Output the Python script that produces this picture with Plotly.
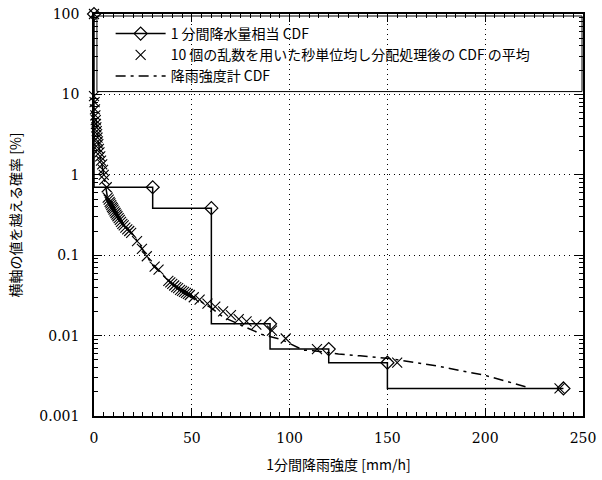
import plotly.graph_objects as go

# 1分間降水量相当 CDF (step)
step_x = [0, 30, 60, 90, 120, 150, 240]
step_y = [100, 0.70, 0.385, 0.014, 0.0068, 0.0046, 0.0022]

# 10個の乱数を用いた秒単位均し分配処理後の CDF の平均
avg_x = [0, 0.0, 0.3, 0.5, 0.7, 0.9, 1.0, 1.2, 1.4, 1.6, 1.8, 2.0, 2.2, 2.5, 2.8, 3.2, 3.6, 4.2, 4.6, 5.0, 5.3, 6.5,
         7.0, 7.5, 8.0, 8.4, 8.8, 9.2, 9.6, 10.0, 10.5, 11.0, 11.5, 12.0, 12.6, 13.2, 13.8, 14.5, 15.2, 16.0, 17.0, 18.0, 19.0,
         22.0, 24.5, 27.0, 31.0, 33.0,
         38.0, 39.0, 40.0, 41.0, 42.0, 43.0, 44.0, 45.0, 46.0, 47.0, 48.0, 49.0, 51.0,
         54.0, 58.0, 62.0, 66.0, 70.0, 74.0, 78.0, 83.0, 91.0, 98.0, 114.0, 155.0, 238.0]
avg_y = [100, 9.5, 8.0, 6.5, 5.5, 4.8, 4.3, 3.9, 3.5, 3.2, 2.9, 2.6, 2.4, 2.1, 1.9, 1.7, 1.5, 1.35, 1.15, 1.0, 0.87, 0.70,
         0.52, 0.49, 0.46, 0.44, 0.42, 0.40, 0.385, 0.37, 0.35, 0.335, 0.32, 0.305, 0.29, 0.275, 0.26, 0.245, 0.235, 0.22, 0.21, 0.20, 0.19,
         0.15, 0.12, 0.097, 0.072, 0.066,
         0.048, 0.046, 0.044, 0.042, 0.040, 0.039, 0.037, 0.036, 0.035, 0.034, 0.033, 0.032, 0.030,
         0.028, 0.025, 0.023, 0.020, 0.018, 0.016, 0.015, 0.0137, 0.0115, 0.0092, 0.0068, 0.0046, 0.0022]

# 降雨強度計 CDF
gauge_x = [1, 3, 5, 7, 10, 15, 20, 30, 40, 50, 60, 66, 75, 81, 86, 96, 107, 112, 125, 136, 147, 151, 175, 200, 221]
gauge_y = [5.0, 1.8, 1.0, 0.5, 0.37, 0.25, 0.18, 0.075, 0.044, 0.031, 0.022, 0.017, 0.0135, 0.0118, 0.0103, 0.0089,
           0.0066, 0.0065, 0.0059, 0.0056, 0.0053, 0.0052, 0.0042, 0.0032, 0.0023]

y_tickvals = [0.001, 0.01, 0.1, 1, 10, 100]
y_ticktext = ["0.001", "0.01", "0.1", "1", "10", "100"]

names = ["1 分間降水量相当 CDF",
         "10 個の乱数を用いた秒単位均し分配処理後の CDF の平均",
         "降雨強度計 CDF"]

fig = go.Figure()
fig.add_trace(go.Scatter(
    x=step_x, y=step_y, mode="lines+markers", name=names[0],
    line=dict(color="black", width=1.5, shape="vh"),
    marker=dict(symbol="diamond-open", size=10, color="black", line=dict(width=1.2)),
    cliponaxis=False))
fig.add_trace(go.Scatter(
    x=avg_x, y=avg_y, mode="markers", name=names[1],
    marker=dict(symbol="x-thin", size=10, color="black", line=dict(width=1.1, color="black")),
    cliponaxis=False))
fig.add_trace(go.Scatter(
    x=gauge_x, y=gauge_y, mode="lines", name=names[2],
    line=dict(color="black", width=1.5, dash="10px,5px,3px,5px")))

# legend frame spanning the plot width
fig.add_shape(type="rect", xref="paper", yref="paper",
              x0=0.006, x1=0.998, y0=0.807, y1=0.995,
              line=dict(color="black", width=1), fillcolor="white", layer="below")

num_font = "DejaVu Serif"
jp_font = "Noto Sans CJK JP"
grid_dash = "1px,4px"
fig.update_layout(
    width=602, height=480,
    margin=dict(l=94, r=18, t=6, b=64),
    paper_bgcolor="white", plot_bgcolor="white",
    font=dict(family=jp_font, size=14, color="black"),
    showlegend=True,
    legend=dict(x=0.034, y=0.99, xanchor="left", yanchor="top",
                bgcolor="rgba(0,0,0,0)", borderwidth=0,
                font=dict(family=jp_font, size=14),
                tracegroupgap=0, itemwidth=50),
    xaxis=dict(range=[0, 250], dtick=50, tick0=0,
               showline=True, linecolor="black", linewidth=1.5, mirror="ticks",
               ticks="inside", ticklen=8, tickcolor="black",
               minor=dict(dtick=5, ticks="inside", ticklen=4, tickcolor="black", showgrid=False),
               showgrid=True, gridcolor="black", griddash=grid_dash, gridwidth=1,
               zeroline=False, ticklabelstandoff=8, ticklabeloverflow="allow",
               title=dict(text="1分間降雨強度 [mm/h]", font=dict(family=jp_font, size=14), standoff=16),
               tickfont=dict(family=num_font, size=14)),
    yaxis=dict(type="log", range=[-3, 2],
               tickvals=y_tickvals, ticktext=y_ticktext,
               showline=True, linecolor="black", linewidth=1.5, mirror="ticks",
               ticks="inside", ticklen=8, tickcolor="black",
               minor=dict(dtick="D1", ticks="inside", ticklen=4, tickcolor="black", showgrid=False),
               showgrid=True, gridcolor="black", griddash=grid_dash, gridwidth=1,
               zeroline=False, ticklabelstandoff=10, ticklabeloverflow="allow",
               title=dict(text="横軸の値を越える確率 [%]", font=dict(family=jp_font, size=14), standoff=14),
               tickfont=dict(family=num_font, size=14)),
)

fig.write_html("out.html")
